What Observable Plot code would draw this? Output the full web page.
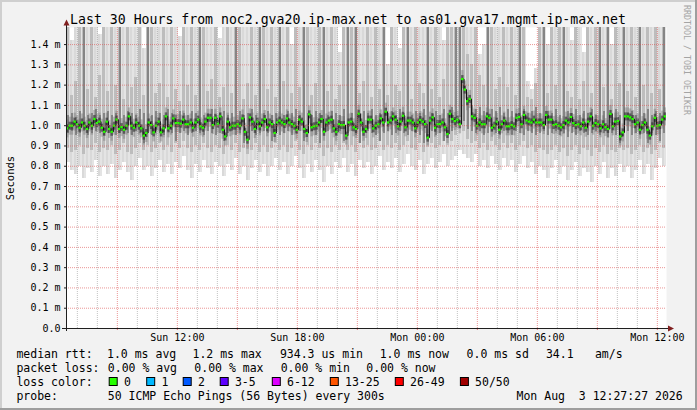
<!DOCTYPE html>
<html><head><meta charset="utf-8">
<script src="https://cdn.jsdelivr.net/npm/d3@7"></script>
<script src="https://cdn.jsdelivr.net/npm/@observablehq/plot@0.6"></script>
<style>
html,body{margin:0;padding:0;background:#f2f2f2;}
#wrap{width:697px;height:410px;overflow:hidden;}
#wrap svg{display:block;}
</style></head><body><div id="wrap"></div>
<script>
// ---- time range ----
const startTime = "2026-08-02T06:27:27Z";
const endTime = "2026-08-03T12:27:27Z";
const xTickTimes = ["2026-08-02T12:00:00Z","2026-08-02T18:00:00Z","2026-08-03T00:00:00Z","2026-08-03T06:00:00Z","2026-08-03T12:00:00Z"];
const xTickLabels = ["Sun 12:00","Sun 18:00","Mon 00:00","Mon 06:00","Mon 12:00"];
const yTickValues = [0,0.1,0.2,0.3,0.4,0.5,0.6,0.7,0.8,0.9,1.0,1.1,1.2,1.3,1.4];
const yTickLabels = ["0.0","0.1 m","0.2 m","0.3 m","0.4 m","0.5 m","0.6 m","0.7 m","0.8 m","0.9 m","1.0 m","1.1 m","1.2 m","1.3 m","1.4 m"];

// ---- median RTT (ms), evenly spaced over the 30 hours ----
const median = [
0.987,1.000,1.000,1.020,1.007,0.990,1.016,1.000,0.984,1.016,
1.000,1.033,1.013,1.020,0.990,0.970,1.020,0.984,0.970,1.000,
1.030,0.984,0.993,0.980,1.000,1.046,1.000,0.990,1.016,1.000,
0.987,0.951,0.964,1.016,1.003,0.967,1.000,1.020,0.967,0.987,
1.046,0.987,1.000,1.036,1.013,1.013,1.010,1.030,1.007,1.007,
1.016,0.990,1.016,1.030,0.997,0.990,1.020,1.039,1.039,1.003,
1.039,1.010,
1.046,0.980,0.947,1.020,0.992,1.000,1.000,1.008,1.000,1.036,
0.970,0.931,1.041,1.020,0.984,1.020,0.997,1.016,1.033,0.992,
1.016,1.008,0.964,1.016,1.025,1.016,1.008,1.036,1.016,1.008,
1.000,0.980,1.030,1.020,0.984,0.964,1.056,0.992,0.997,1.000,
1.016,1.033,0.970,1.016,1.025,1.030,0.987,0.970,1.008,1.003,
1.003,0.951,1.016,1.020,0.992,0.984,1.059,1.016,0.970,0.984,
1.030,
1.030,0.987,1.000,1.007,1.036,1.016,1.069,1.016,1.026,1.046,
1.030,0.997,1.020,1.049,0.992,1.025,1.025,1.016,0.987,1.016,
1.028,1.020,1.008,0.941,1.025,1.041,0.990,1.008,1.008,1.016,
0.992,0.959,1.059,1.033,1.023,1.030,1.007,1.230,1.178,1.121,
1.132,1.046,1.039,1.000,1.016,1.007,1.007,1.046,1.039,0.990,
1.000,1.020,0.980,1.007,1.025,0.997,0.997,1.003,0.997,1.039,
1.043,
1.007,1.053,1.026,1.020,1.016,1.030,1.016,1.016,1.016,1.003,
1.053,1.030,1.030,1.003,1.007,1.000,0.992,1.003,1.025,1.016,
1.043,1.013,1.003,1.007,0.997,1.016,0.990,1.020,1.046,1.000,
1.013,1.007,0.987,1.007,0.993,0.984,1.058,0.997,1.020,1.023,
0.947,0.967,1.046,1.046,1.041,1.033,1.007,1.016,0.980,1.003,
1.016,0.980,0.951,0.997,1.039,1.000,1.003,1.030,1.046];

// ---- smoke: ping distribution per step (ms), 150 steps ----
const pingMin = [
.82,.78,.76,.80,.74,.79,.77,.83,.75,.80, .76,.81,.74,.78,.82,.77,.73,.80,.84,.78,
.80,.75,.79,.83,.77,.81,.76,.82,.79,.85, .78,.74,.81,.77,.83,.79,.76,.82,.80,.75,
.81,.78,.84,.76,.80,.73,.79,.83,.77,.81, .75,.80,.84,.78,.82,.76,.80,.85,.79,.74,
.81,.77,.83,.78,.72,.80,.76,.82,.79,.84, .77,.81,.75,.83,.79,.82,.76,.80,.85,.78,
.82,.79,.84,.77,.81,.86,.80,.78,.83,.76, .81,.84,.79,.82,.86,.80,.83,.85,.88,.86,
.84,.82,.86,.80,.83,.79,.85,.81,.78,.84, .80,.83,.77,.81,.85,.79,.82,.76,.80,.78,
.74,.79,.83,.76,.80,.73,.78,.82,.75,.79, .77,.72,.80,.76,.82,.74,.79,.75,.81,.77,
.80,.74,.78,.83,.76,.81,.73,.79,.84,.80];
const ping10 = [
.89,.87,.88,.90,.86,.89,.88,.91,.87,.89, .88,.90,.86,.88,.91,.87,.86,.89,.91,.88,
.90,.87,.89,.91,.88,.90,.87,.91,.89,.92, .89,.87,.90,.88,.91,.89,.87,.90,.89,.86,
.90,.88,.91,.87,.89,.86,.88,.91,.87,.90, .87,.89,.91,.88,.90,.87,.89,.92,.88,.86,
.90,.88,.91,.89,.85,.89,.87,.90,.88,.91, .88,.90,.87,.91,.89,.90,.88,.89,.92,.88,
.90,.89,.91,.88,.90,.92,.89,.88,.91,.87, .90,.91,.89,.90,.92,.90,.92,.95,1.00,.97,
.93,.91,.92,.89,.91,.88,.92,.90,.88,.91, .89,.91,.88,.90,.92,.89,.90,.87,.89,.88,
.86,.88,.90,.87,.89,.85,.88,.90,.86,.89, .88,.85,.89,.87,.90,.86,.88,.87,.89,.88,
.89,.86,.88,.90,.87,.89,.86,.88,.91,.89];
const ping30 = [
.96,.97,.95,.96,.97,.95,.96,.97,.96,.95, .96,.97,.95,.96,.97,.96,.95,.97,.96,.91,
.96,.95,.97,.96,.95,.97,.96,.92,.96,.97, .95,.96,.97,.96,.95,.97,.96,.95,.96,.92,
.96,.97,.95,.96,.91,.96,.97,.95,.96,.97, .96,.92,.97,.95,.96,.97,.95,.96,.97,.92,
.96,.97,.95,.91,.96,.97,.96,.95,.97,.92, .96,.97,.95,.91,.96,.97,.96,.95,.92,.96,
.97,.95,.96,.97,.96,.95,.97,.96,.95,.91, .96,.97,.95,.96,.92,.96,.97,.99,1.04,1.02,
.98,.97,.96,.97,.95,.96,.97,.96,.95,.97, .96,.95,.97,.96,.95,.97,.96,.95,.96,.97,
.95,.96,.97,.95,.96,.94,.96,.95,.97,.96, .95,.96,.97,.95,.96,.94,.96,.95,.91,.96,
.97,.95,.96,.95,.96,.91,.96,.95,.92,.96];
const ping70 = [
1.05,1.06,1.04,1.07,1.60,1.05,1.06,1.08,1.05,1.06, 1.07,1.05,1.06,1.60,1.05,1.07,1.06,1.05,1.08,1.06,
1.60,1.05,1.07,1.06,1.05,1.08,1.06,1.05,1.07,1.06, 1.05,1.07,1.06,1.60,1.05,1.06,1.08,1.05,1.06,1.07,
1.05,1.06,1.60,1.07,1.05,1.06,1.08,1.05,1.60,1.06, 1.07,1.05,1.06,1.60,1.05,1.07,1.06,1.08,1.05,1.60,
1.06,1.05,1.07,1.06,1.60,1.05,1.07,1.06,1.05,1.08, 1.60,1.06,1.60,1.05,1.07,1.06,1.08,1.05,1.06,1.60,
1.06,1.07,1.05,1.08,1.06,1.60,1.05,1.07,1.06,1.08, 1.60,1.06,1.07,1.05,1.08,1.06,1.09,1.60,1.60,1.20,
1.12,1.10,1.08,1.09,1.07,1.60,1.08,1.07,1.09,1.06, 1.08,1.07,1.06,1.60,1.08,1.06,1.07,1.09,1.06,1.60,
1.07,1.06,1.08,1.05,1.60,1.07,1.06,1.08,1.05,1.07, 1.06,1.08,1.05,1.60,1.07,1.60,1.06,1.08,1.05,1.60,
1.06,1.07,1.05,1.60,1.06,1.08,1.05,1.07,1.06,1.60];
const ping90 = [
1.60,1.15,1.22,1.60,1.60,1.18,1.60,1.14,1.25,1.60, 1.17,1.60,1.20,1.60,1.13,1.60,1.19,1.24,1.60,1.15,
1.60,1.60,1.16,1.21,1.60,1.14,1.60,1.18,1.12,1.60, 1.20,1.60,1.15,1.60,1.60,1.17,1.23,1.60,1.14,1.19,
1.60,1.16,1.60,1.60,1.13,1.21,1.60,1.15,1.60,1.60, 1.18,1.60,1.14,1.60,1.22,1.60,1.16,1.60,1.19,1.60,
1.60,1.15,1.21,1.60,1.60,1.17,1.60,1.13,1.20,1.60, 1.60,1.60,1.60,1.16,1.22,1.60,1.14,1.60,1.18,1.60,
1.15,1.60,1.20,1.17,1.60,1.60,1.13,1.60,1.21,1.16, 1.60,1.18,1.60,1.14,1.23,1.60,1.60,1.60,1.60,1.60,
1.35,1.30,1.60,1.25,1.20,1.60,1.60,1.18,1.24,1.60, 1.19,1.60,1.15,1.60,1.60,1.14,1.13,1.21,1.60,1.60,
1.16,1.60,1.20,1.60,1.60,1.17,1.14,1.60,1.13,1.22, 1.60,1.16,1.60,1.60,1.19,1.60,1.13,1.60,1.21,1.60,
1.17,1.60,1.14,1.60,1.20,1.60,1.16,1.60,1.18,1.60];
const pingMax = [
1.60,1.42,1.60,1.60,1.60,1.60,1.60,1.60,1.45,1.60, 1.60,1.60,1.60,1.60,1.60,1.60,1.60,1.60,1.60,1.38,
1.60,1.60,1.60,1.60,1.60,1.60,1.60,1.60,1.44,1.60, 1.60,1.60,1.60,1.60,1.60,1.60,1.60,1.60,1.43,1.60,
1.60,1.60,1.60,1.60,1.60,1.60,1.60,1.60,1.60,1.60, 1.60,1.60,1.60,1.60,1.60,1.60,1.40,1.60,1.60,1.60,
1.60,1.60,1.60,1.60,1.60,1.60,1.60,1.60,1.36,1.60, 1.60,1.60,1.60,1.60,1.60,1.60,1.60,1.60,1.60,1.60,
1.30,1.60,1.60,1.38,1.60,1.60,1.60,1.60,1.60,1.60, 1.60,1.60,1.60,1.60,1.42,1.60,1.60,1.60,1.60,1.60,
1.60,1.60,1.60,1.35,1.40,1.60,1.60,1.60,1.60,1.60, 1.60,1.60,1.60,1.60,1.60,1.22,1.18,1.28,1.60,1.60,
1.40,1.60,1.60,1.60,1.60,1.60,1.42,1.60,1.60,1.36, 1.60,1.60,1.60,1.60,1.60,1.60,1.40,1.60,1.60,1.60,
1.60,1.60,1.60,1.60,1.60,1.60,1.60,1.60,1.60,1.60];

// ---- legend texts ----
const title = "Last 30 Hours from noc2.gva20.ip-max.net to as01.gva17.mgmt.ip-max.net";
const yLabel = "Seconds";
const rttStats = ["1.0 ms avg","1.2 ms max","934.3 us min","1.0 ms now","0.0 ms sd","34.1","am/s"];
const lossStats = ["0.00 % avg","0.00 % max","0.00 % min","0.00 % now"];
const lossLabels = ["0","1","2","3-5","6-12","13-25","26-49","50/50"];
const lossColors = ["#26ff00","#00b8ff","#0059ff","#5e00ff","#dd00ff","#ff5500","#ff0000","#a10000"];
const probeText = "50 ICMP Echo Pings (56 Bytes) every 300s";
const stamp = "Mon Aug  3 12:27:27 2026";
const watermark = "RRDTOOL / TOBI OETIKER";

// ---- build tables ----
const t0 = new Date(startTime), t1 = new Date(endTime);
const span = t1 - t0;
const smoke = pingMin.map((v, i) => ({
  a: new Date(+t0 + span * i / pingMin.length),
  b: new Date(+t0 + span * (i + 1) / pingMin.length),
  lo: v, p10: ping10[i], p30: ping30[i], p70: ping70[i], p90: ping90[i], hi: pingMax[i]
}));
const med = median.map((v, i) => ({
  a: new Date(+t0 + span * i / median.length),
  b: new Date(+t0 + span * (i + 1) / median.length),
  m: v
}));
const hours = d3.utcHour.range(t0, t1);
const minorHours = hours.filter(d => d.getUTCHours() % 3 !== 0);
const majorHours = hours.filter(d => d.getUTCHours() % 3 === 0);
const xTicks = xTickTimes.map(s => new Date(s));
const xLabelOf = new Map(xTicks.map((d, i) => [+d, xTickLabels[i]]));
const yLabelOf = new Map(yTickValues.map((d, i) => [d, yTickLabels[i]]));
const yTop = (328 - 27) / 202.8;

const mono = "DejaVu Sans Mono, monospace";
const chart = Plot.plot({
  width: 697, height: 410,
  marginLeft: 66, marginRight: 31, marginTop: 27, marginBottom: 82,
  style: {background: "#f2f2f2", fontFamily: mono, fontSize: "10px", color: "#000"},
  x: {type: "utc", domain: [t0, t1], axis: null},
  y: {domain: [0, yTop], axis: null},
  marks: [
    Plot.frame({fill: "#ffffff", stroke: null}),
    Plot.rect(smoke, {x1: "a", x2: "b", y1: "lo", y2: "hi", fill: "#d9d9d9", clip: true, shapeRendering: "crispEdges"}),
    Plot.rect(smoke, {x1: "a", x2: "b", y1: "lo", y2: "hi", fill: "#e4e4e4", insetLeft: 2, clip: true, shapeRendering: "crispEdges"}),
    Plot.rect(smoke, {x1: "a", x2: "b", y1: "p10", y2: "p90", fill: "#bdbdbd", insetRight: 1, clip: true, shapeRendering: "crispEdges"}),
    Plot.rect(smoke, {x1: "a", x2: "b", y1: "p30", y2: "p70", fill: "#858585", insetLeft: 1, insetRight: 1, clip: true, shapeRendering: "crispEdges"}),
    Plot.ruleY(med, {x1: "a", x2: "b", y: "m", stroke: "#666", strokeWidth: 18, strokeOpacity: 0.35, clip: true}),
    Plot.ruleY(med, {x1: "a", x2: "b", y: "m", stroke: "#2a2a2a", strokeWidth: 8, strokeOpacity: 0.6, clip: true}),
    Plot.line(med, {x: "a", y: "m", curve: "step-after", stroke: "#111", strokeWidth: 1, clip: true}),
    Plot.ruleY(med, {x1: "a", x2: "b", y: "m", stroke: "#26ff00", strokeWidth: 2.2, clip: true}),
    Plot.ruleX(minorHours, {stroke: "#8f8f8f", strokeOpacity: 0.55, strokeDasharray: "1,1"}),
    Plot.ruleX(majorHours, {stroke: "#de5050", strokeOpacity: 0.6, strokeDasharray: "1,1"}),
    Plot.ruleY(yTickValues.filter(d => d > 0), {stroke: "#de5050", strokeOpacity: 0.6, strokeDasharray: "1,1"}),
    Plot.axisY(yTickValues, {tickFormat: d => yLabelOf.get(d), tickSize: 2, tickPadding: 4, fontSize: 10, stroke: "#1f1f1f"}),
    Plot.axisX(majorHours, {tickFormat: () => "", tickSize: 2, stroke: "#de5050", strokeOpacity: 0.8}),
    Plot.axisX(xTicks, {tickFormat: d => xLabelOf.get(+d), tickSize: 0, tickPadding: 5, fontSize: 10})
  ]
});
document.getElementById("wrap").appendChild(chart);

// ---- axes lines, arrows, frame shading and texts ----
const svg = d3.select(chart);
const [xa, xb] = chart.scale("x").range;
const [ya, yb] = chart.scale("y").range;
const g = svg.append("g");
g.append("line").attr("x1", xa - 4).attr("x2", xb + 3).attr("y1", ya + 0.5).attr("y2", ya + 0.5).attr("stroke", "#1f1f1f");
g.append("line").attr("x1", xa + 0.5).attr("x2", xa + 0.5).attr("y1", ya + 3).attr("y2", yb - 3).attr("stroke", "#1f1f1f");
g.append("path").attr("d", `M${xb + 2},${ya - 2.5}L${xb + 8},${ya + 0.5}L${xb + 2},${ya + 3.5}Z`).attr("fill", "#801f1f");
g.append("path").attr("d", `M${xa - 2.5},${yb - 1.5}L${xa + 0.5},${yb - 7.5}L${xa + 3.5},${yb - 1.5}Z`).attr("fill", "#801f1f");
g.append("rect").attr("x", 0).attr("y", 0).attr("width", 697).attr("height", 2).attr("fill", "#cfcfcf");
g.append("rect").attr("x", 0).attr("y", 0).attr("width", 2).attr("height", 410).attr("fill", "#cfcfcf");
g.append("rect").attr("x", 0).attr("y", 408).attr("width", 697).attr("height", 2).attr("fill", "#9e9e9e");
g.append("rect").attr("x", 695).attr("y", 0).attr("width", 2).attr("height", 410).attr("fill", "#9e9e9e");

function txt(x, y, s, size, anchor, extra) {
  const t = g.append("text").attr("x", x).attr("y", y).attr("font-family", mono)
    .attr("font-size", size).attr("text-anchor", anchor || "start").style("white-space", "pre").text(s);
  if (extra) extra(t);
  return t;
}
txt(348, 24, title, 13.2, "middle");
txt(0, 0, yLabel, 10.5, "middle", t => t.attr("transform", "translate(14,178) rotate(-90)"));
txt(0, 0, watermark, 8.3, "start", t => t.attr("transform", "translate(684,5) rotate(90)").attr("fill", "#a4a4a4"));

const L = 16.4, fs = 11.5;
txt(L, 358.3, "median rtt:", fs);
[107.0, 192.5, 279.9, 379.7, 466.6, 545.9, 594.9].forEach((x, i) => txt(x, 358.3, rttStats[i], fs));
txt(L, 372.2, "packet loss:", fs);
[107.8, 194.3, 280.7, 366.3].forEach((x, i) => txt(x, 372.2, lossStats[i], fs));
txt(L, 386, "loss color:", fs);
[108.7, 146.2, 182.7, 219.7, 271.8, 329.8, 394.8, 459.9].forEach((x, i) => {
  g.append("rect").attr("x", x + 0.5).attr("y", 377.5).attr("width", 8).attr("height", 8)
    .attr("fill", lossColors[i]).attr("stroke", "#000").attr("stroke-width", 1);
  txt(x + 15.2, 386, lossLabels[i], fs);
});
txt(L, 400, "probe:", fs);
txt(107.8, 400, probeText, fs);
txt(682.7, 400, stamp, fs, "end");
</script></body></html>
